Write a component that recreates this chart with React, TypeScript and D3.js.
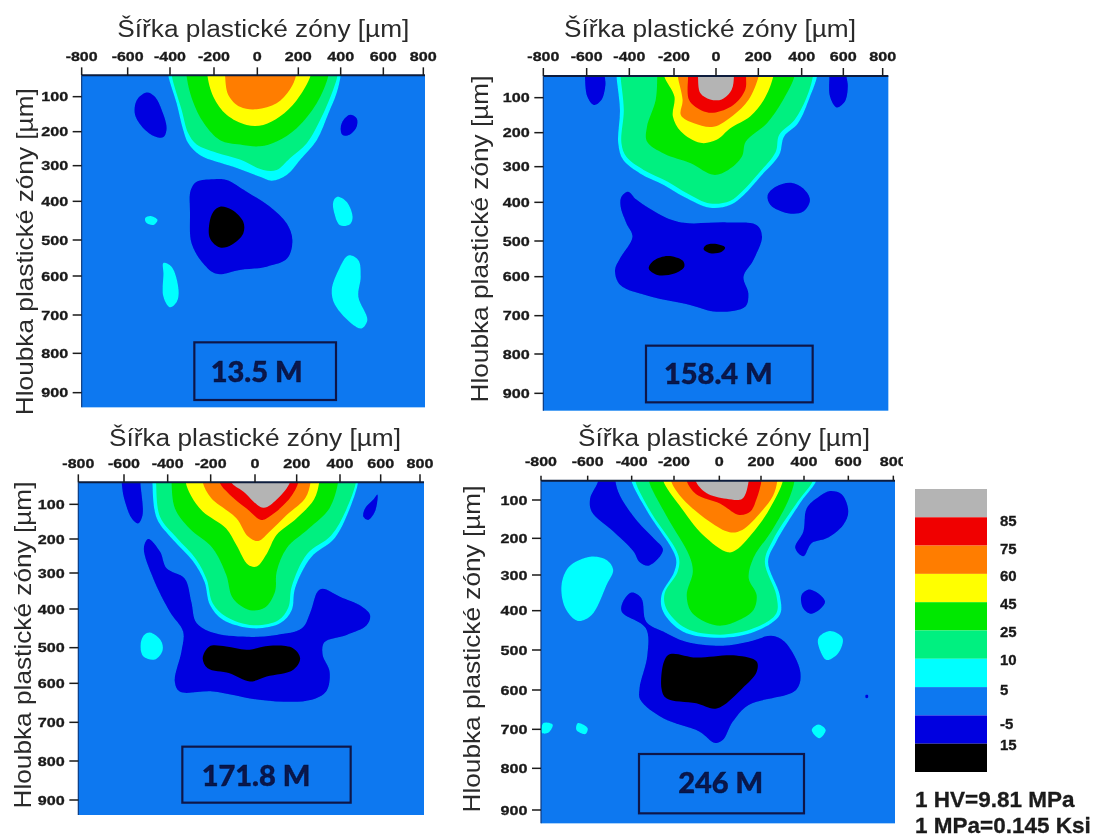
import React from "react";
import * as d3 from "d3";

type Pt = [number, number];
type Region = { band: string; pts: Pt[] };

const xTicks = [-800, -600, -400, -200, 0, 200, 400, 600, 800];
const yTicks = [100, 200, 300, 400, 500, 600, 700, 800, 900];
const yDomain = [40, ...yTicks, 940];
const xTitle = "Šířka plastické zóny [µm]";
const yTitle = "Hloubka plastické zóny [µm]";

const bandNames = ["gray", "85", "75", "60", "45", "25", "10", "5", "-5", "15"];
const bandLabels = ["85", "75", "60", "45", "25", "10", "5", "-5", "15"];
const bandColors = ["#b4b4b4", "#f00000", "#ff7d00", "#ffff00", "#00e800", "#00f080", "#00ffff", "#0a78f0", "#0000e0", "#000000"];
const notes = ["1 HV=9.81 MPa", "1 MPa=0.145 Ksi"];

const panelA: Region[] = [
  { band: "10", pts: [[-408, 10], [-408, 40], [-370, 119], [-340, 195], [-317, 234], [-263, 269], [-111, 303], [13, 331], [70, 342], [143, 326], [208, 283], [287, 225], [342, 148], [381, 90], [400, 40], [400, 10]] },
  { band: "25", pts: [[-392, 10], [-392, 40], [-347, 138], [-317, 205], [-279, 238], [-188, 262], [-80, 282], [29, 312], [94, 312], [159, 278], [240, 234], [311, 157], [365, 80], [385, 40], [385, 10]] },
  { band: "45", pts: [[-325, 10], [-325, 40], [-298, 110], [-245, 177], [-172, 225], [-80, 238], [13, 243], [94, 229], [192, 190], [287, 119], [342, 40], [342, 10]] },
  { band: "60", pts: [[-230, 10], [-230, 40], [-203, 100], [-142, 152], [-49, 181], [29, 181], [110, 157], [192, 110], [258, 40], [258, 10]] },
  { band: "75", pts: [[-149, 10], [-149, 40], [-134, 95], [-80, 129], [-3, 136], [94, 119], [159, 80], [189, 40], [189, 10]] },
  { band: "-5", pts: [[-510, 88], [-471, 100], [-439, 138], [-416, 190], [-431, 216], [-471, 214], [-526, 190], [-565, 152], [-557, 110]] },
  { band: "-5", pts: [[444, 152], [475, 162], [475, 186], [444, 208], [409, 210], [400, 190], [413, 167]] },
  { band: "-5", pts: [[-279, 345], [-203, 338], [-142, 340], [-49, 373], [62, 414], [143, 457], [171, 500], [146, 551], [46, 574], [-80, 583], [-188, 594], [-249, 565], [-302, 509], [-309, 431], [-306, 369]] },
  { band: "15", pts: [[-172, 414], [-118, 422], [-65, 453], [-65, 483], [-118, 513], [-172, 521], [-218, 496], [-221, 457], [-203, 427]] },
  { band: "10", pts: [[-491, 438], [-459, 448], [-478, 461], [-513, 455], [-517, 443]] },
  { band: "10", pts: [[384, 387], [428, 401], [456, 440], [444, 459], [397, 462], [370, 431], [365, 401]] },
  { band: "10", pts: [[-431, 564], [-392, 575], [-361, 636], [-369, 666], [-400, 680], [-431, 653], [-431, 593]] },
  { band: "10", pts: [[436, 543], [483, 556], [494, 602], [483, 653], [525, 713], [498, 735], [459, 726], [373, 674], [358, 636], [389, 585]] },
];

const panelB: Region[] = [
  { band: "10", pts: [[-460, 10], [-460, 40], [-444, 135], [-452, 231], [-429, 280], [-352, 319], [-244, 352], [-151, 385], [-28, 414], [66, 407], [130, 380], [209, 328], [296, 266], [319, 211], [383, 173], [438, 100], [474, 40], [474, 10]] },
  { band: "25", pts: [[-441, 10], [-441, 40], [-426, 135], [-437, 231], [-414, 271], [-336, 309], [-228, 342], [-136, 375], [-28, 403], [66, 396], [122, 370], [201, 319], [280, 257], [296, 207], [367, 164], [422, 102], [454, 40], [454, 10]] },
  { band: "45", pts: [[-275, 10], [-275, 40], [-282, 107], [-321, 183], [-321, 226], [-244, 262], [-120, 290], [-12, 323], [58, 309], [122, 271], [141, 226], [240, 173], [310, 111], [367, 40], [367, 10]] },
  { band: "60", pts: [[-244, 10], [-244, 40], [-198, 97], [-205, 154], [-167, 197], [-74, 230], [3, 221], [66, 188], [161, 154], [225, 107], [269, 40], [269, 10]] },
  { band: "75", pts: [[-182, 10], [-182, 40], [-159, 107], [-167, 150], [-105, 173], [-12, 183], [82, 150], [153, 107], [201, 40], [201, 10]] },
  { band: "85", pts: [[-133, 10], [-133, 40], [-128, 107], [-74, 135], [-12, 143], [82, 121], [138, 78], [142, 40], [142, 10]] },
  { band: "gray", pts: [[-86, 10], [-86, 40], [-74, 88], [-28, 105], [27, 105], [74, 78], [85, 40], [85, 10]] },
  { band: "-5", pts: [[-608, 10], [-608, 40], [-597, 97], [-566, 121], [-531, 107], [-512, 64], [-515, 40], [-515, 10]] },
  { band: "-5", pts: [[533, 10], [533, 40], [536, 97], [568, 128], [608, 111], [623, 68], [616, 40], [616, 10]] },
  { band: "-5", pts: [[351, 345], [408, 361], [440, 393], [408, 424], [335, 428], [256, 407], [243, 380], [280, 356]] },
  { band: "-5", pts: [[-406, 370], [-367, 393], [-244, 437], [-151, 453], [51, 452], [193, 459], [217, 489], [177, 553], [130, 600], [153, 643], [138, 677], [3, 690], [-120, 673], [-306, 651], [-444, 621], [-467, 581], [-444, 549], [-386, 489], [-414, 454], [-441, 411], [-437, 384]] },
  { band: "15", pts: [[-228, 542], [-159, 555], [-151, 572], [-198, 591], [-275, 595], [-313, 577], [-290, 555]] },
  { band: "15", pts: [[-12, 508], [43, 518], [27, 530], [-28, 534], [-59, 523], [-51, 513]] },
];

const panelC: Region[] = [
  { band: "10", pts: [[-470, 10], [-470, 40], [-450, 140], [-374, 203], [-283, 265], [-229, 324], [-203, 389], [-145, 428], [-8, 450], [120, 437], [176, 403], [192, 343], [265, 255], [375, 198], [442, 121], [489, 40], [489, 10]] },
  { band: "25", pts: [[-453, 10], [-453, 40], [-435, 136], [-359, 196], [-267, 260], [-218, 319], [-191, 384], [-130, 420], [-8, 442], [112, 429], [160, 396], [176, 338], [248, 244], [359, 190], [430, 116], [478, 40], [478, 10]] },
  { band: "45", pts: [[-382, 10], [-382, 40], [-366, 112], [-298, 170], [-191, 227], [-130, 305], [-99, 371], [-23, 403], [48, 396], [96, 352], [104, 296], [152, 227], [256, 170], [351, 112], [391, 40], [391, 10]] },
  { band: "60", pts: [[-316, 10], [-316, 40], [-290, 78], [-237, 121], [-130, 170], [-84, 218], [-31, 276], [8, 281], [56, 244], [104, 188], [200, 140], [280, 87], [304, 40], [304, 10]] },
  { band: "75", pts: [[-237, 10], [-237, 40], [-198, 83], [-84, 140], [-31, 193], [16, 206], [72, 178], [152, 131], [240, 83], [264, 40], [264, 10]] },
  { band: "85", pts: [[-160, 10], [-160, 40], [-115, 73], [-38, 112], [32, 145], [80, 131], [168, 83], [208, 40], [208, 10]] },
  { band: "gray", pts: [[-107, 10], [-107, 40], [-53, 65], [40, 110], [104, 87], [168, 40], [168, 10]] },
  { band: "-5", pts: [[-610, 10], [-610, 40], [-600, 83], [-565, 140], [-535, 155], [-515, 131], [-525, 40], [-525, 10]] },
  { band: "-5", pts: [[584, 73], [572, 121], [539, 145], [515, 136], [523, 112], [564, 87]] },
  { band: "-5", pts: [[-489, 200], [-435, 237], [-405, 286], [-321, 315], [-290, 380], [-267, 435], [-191, 461], [-38, 472], [104, 467], [224, 450], [264, 407], [296, 352], [320, 344], [400, 366], [507, 393], [548, 416], [531, 442], [433, 467], [328, 486], [320, 520], [352, 567], [336, 621], [264, 643], [136, 647], [-8, 640], [-191, 621], [-344, 621], [-367, 595], [-336, 511], [-328, 459], [-390, 407], [-466, 315], [-509, 227]] },
  { band: "15", pts: [[-206, 497], [-130, 497], [-38, 506], [72, 495], [184, 502], [216, 530], [184, 562], [56, 581], [-23, 595], [-115, 572], [-214, 558], [-237, 530]] },
  { band: "10", pts: [[-481, 461], [-432, 481], [-423, 507], [-458, 533], [-511, 525], [-524, 493], [-509, 468]] },
];

const panelD: Region[] = [
  { band: "10", pts: [[-401, 10], [-401, 40], [-326, 130], [-192, 253], [-199, 291], [-259, 356], [-251, 403], [-162, 453], [3, 469], [172, 453], [287, 411], [287, 356], [233, 264], [271, 209], [387, 104], [455, 40], [455, 10]] },
  { band: "25", pts: [[-383, 10], [-383, 40], [-311, 130], [-180, 248], [-184, 291], [-244, 351], [-237, 393], [-147, 445], [3, 461], [164, 445], [271, 407], [271, 356], [218, 264], [256, 204], [371, 104], [440, 40], [440, 10]] },
  { band: "45", pts: [[-319, 10], [-319, 40], [-236, 141], [-132, 248], [-117, 291], [-144, 356], [-124, 403], [-57, 430], [11, 438], [95, 424], [164, 398], [179, 356], [141, 309], [164, 253], [248, 182], [325, 104], [356, 40], [356, 10]] },
  { band: "60", pts: [[-251, 10], [-251, 40], [-177, 113], [-72, 191], [41, 238], [80, 232], [179, 173], [241, 122], [302, 40], [302, 10]] },
  { band: "75", pts: [[-214, 10], [-214, 40], [-162, 96], [-42, 157], [49, 184], [110, 178], [202, 130], [256, 87], [276, 40], [276, 10]] },
  { band: "85", pts: [[-144, 10], [-144, 40], [-102, 82], [3, 109], [95, 139], [149, 130], [179, 96], [202, 40], [202, 10]] },
  { band: "gray", pts: [[-105, 10], [-105, 40], [-57, 78], [34, 96], [110, 96], [141, 40], [141, 10]] },
  { band: "-5", pts: [[-552, 10], [-552, 40], [-589, 96], [-582, 130], [-483, 182], [-392, 235], [-362, 265], [-317, 274], [-252, 232], [-296, 200], [-371, 157], [-453, 87], [-474, 40], [-474, 10]] },
  { band: "-5", pts: [[517, 72], [570, 82], [600, 130], [577, 165], [502, 200], [435, 213], [397, 249], [359, 226], [397, 182], [412, 122], [465, 91]] },
  { band: "-5", pts: [[427, 341], [495, 375], [435, 408], [397, 394], [389, 356]] },
  { band: "-5", pts: [[-400, 349], [-354, 365], [-331, 428], [-251, 453], [-147, 479], [18, 489], [141, 479], [248, 464], [310, 479], [383, 555], [363, 600], [141, 638], [64, 681], [18, 727], [-19, 735], [-87, 706], [-251, 672], [-359, 625], [-363, 596], [-326, 513], [-333, 445], [-445, 403], [-438, 373]] },
  { band: "-5", pts: [[677, 613], [687, 613], [687, 620], [677, 620]] },
  { band: "15", pts: [[-229, 513], [-102, 519], [80, 514], [179, 529], [179, 555], [110, 596], [-12, 647], [-102, 634], [-236, 621], [-259, 596]] },
  { band: "10", pts: [[-589, 250], [-514, 259], [-484, 286], [-514, 328], [-582, 411], [-642, 426], [-695, 394], [-712, 328], [-679, 277]] },
  { band: "10", pts: [[517, 452], [574, 470], [554, 508], [502, 525], [472, 500], [465, 470]] },
  { band: "10", pts: [[465, 688], [498, 702], [469, 723], [435, 702]] },
  { band: "10", pts: [[-642, 684], [-600, 697], [-610, 712], [-648, 702]] },
  { band: "10", pts: [[-790, 684], [-750, 688], [-769, 709], [-797, 709]] },
];

const panels = [
  { id: "a", regions: panelA, label: "13.5 M", ox: 0, oy: 0, tickLen: 8,
    xz: [245, 383, 510, 642, 772, 895, 1022, 1150, 1270], yz: [226, 290, 395, 497, 604, 720, 828, 945, 1060, 1178, 1222], rightZ: 1275,
    box: [583, 1027, 1008, 1200], textAt: [770, 1115], titleAt: [790, 88], yTitleAt: [75, 755], labelZ: 168 },
  { id: "b", regions: panelB, label: "158.4 M", ox: 450, oy: 0, tickLen: 8,
    xz: [280, 410, 538, 672, 798, 925, 1055, 1180, 1298], yz: [228, 293, 398, 500, 607, 723, 830, 947, 1062, 1180, 1232], rightZ: 1315,
    box: [588, 1037, 1088, 1207], textAt: [805, 1122], titleAt: [780, 88], yTitleAt: [90, 717], labelZ: 168 },
  { id: "c", regions: panelC, label: "171.8 M", ox: 0, oy: 415, tickLen: 8,
    xz: [235, 372, 503, 632, 765, 890, 1020, 1142, 1260], yz: [202, 268, 372, 474, 582, 698, 805, 922, 1038, 1155, 1200], rightZ: 1272,
    box: [547, 995, 1052, 1163], textAt: [768, 1083], titleAt: [765, 70], yTitleAt: [70, 690], labelZ: 145 },
  { id: "d", regions: panelD, label: "246 M", ox: 450, oy: 415, tickLen: 5,
    xz: [273, 413, 545, 672, 808, 933, 1062, 1195, 1330], yz: [197, 255, 370, 480, 587, 705, 825, 943, 1060, 1185, 1225], rightZ: 1335,
    box: [567, 1017, 1062, 1195], textAt: [812, 1105], titleAt: [822, 70], yTitleAt: [65, 702], labelZ: 140 },
];

const colorOf = d3.scaleOrdinal<string, string>().domain(bandNames).range(bandColors);
const legendY = d3.scaleBand<string>().domain(bandNames).range([489, 772]);
const legendLabelY = [520, 548, 575, 603, 631, 659, 689, 723, 744];

const ink = "#1a1a1a";
const navy = "#07184a";

const tickWidth = (t: number) => {
  const s = String(t);
  return s.replace("-", "").length * 9 + (s.startsWith("-") ? 5 : 0);
};

function Panel({ p }: { p: (typeof panels)[number] }) {
  const px = (v: number) => v / 3 + p.ox;
  const py = (v: number) => v / 3 + p.oy;
  const x = d3.scaleLinear().domain(xTicks).range(p.xz.map(px));
  const y = d3.scaleLinear().domain(yDomain).range(p.yz.map(py));
  const line = d3
    .line<Pt>()
    .x((d) => x(d[0]))
    .y((d) => y(d[1]))
    .curve(d3.curveCatmullRomClosed.alpha(0.5));
  const left = px(p.xz[0]);
  const right = px(p.rightZ);
  const top = py(p.yz[0]);
  const bottom = py(p.yz[p.yz.length - 1]);
  const clipId = `plot-${p.id}`;
  const [bx0, by0, bx1, by1] = p.box;
  return (
    <g>
      <g filter="url(#softShape)">
        <clipPath id={clipId}>
          <rect x={left} y={top} width={right - left} height={bottom - top} />
        </clipPath>
        <rect x={left} y={top} width={right - left} height={bottom - top} fill={colorOf("5")} />
        <g clipPath={`url(#${clipId})`}>
          {p.regions.map((r, i) => (
            <path key={i} d={line(r.pts) ?? ""} fill={colorOf(r.band)} />
          ))}
        </g>
      </g>
      <line x1={left} x2={right} y1={top} y2={top} stroke="#0a1c3c" strokeWidth={2} />
      <line x1={left} x2={left} y1={top} y2={bottom} stroke="#0a3a80" strokeWidth={1.2} />
      {xTicks.map((t) => (
        <g key={t}>
          <line x1={x(t)} x2={x(t)} y1={top} y2={top - p.tickLen} stroke={ink} strokeWidth={1.5} />
          <text x={x(t)} y={py(p.labelZ) + 4.5} textAnchor="middle" fontFamily="Liberation Sans" fontWeight={700} fontSize={12.5} fill={ink} stroke={ink} strokeWidth={0.3} textLength={tickWidth(t)} lengthAdjust="spacingAndGlyphs">
            {t}
          </text>
        </g>
      ))}
      {yTicks.map((t) => (
        <g key={t}>
          <line x1={left - 9} x2={left} y1={y(t)} y2={y(t)} stroke={ink} strokeWidth={1.5} />
          <text x={left - 13.5} y={y(t) + 4.5} textAnchor="end" fontFamily="Liberation Sans" fontWeight={700} fontSize={12.5} fill={ink} stroke={ink} strokeWidth={0.3} textLength={tickWidth(t)} lengthAdjust="spacingAndGlyphs">
            {t}
          </text>
        </g>
      ))}
      <text x={px(p.titleAt[0])} y={py(p.titleAt[1]) + 8} textAnchor="middle" fontFamily="Liberation Sans" fontSize={23.5} fill="#2a2a2a" textLength={292} lengthAdjust="spacingAndGlyphs">
        {xTitle}
      </text>
      <text transform={`translate(${px(p.yTitleAt[0]) + 8},${py(p.yTitleAt[1])}) rotate(-90)`} textAnchor="middle" fontFamily="Liberation Sans" fontSize={24} fill="#2a2a2a" textLength={327} lengthAdjust="spacingAndGlyphs">
        {yTitle}
      </text>
      <rect x={px(bx0)} y={py(by0)} width={(bx1 - bx0) / 3} height={(by1 - by0) / 3} fill="none" stroke={navy} strokeWidth={2.2} />
      <text x={px(p.textAt[0])} y={py(p.textAt[1]) + 10} textAnchor="middle" fontFamily="Lato" fontWeight={900} fontSize={29} fill={navy} stroke={navy} strokeWidth={0.5}>
        {p.label}
      </text>
    </g>
  );
}

export default function App() {
  return (
    <svg width={1097} height={837} viewBox="0 0 1097 837" style={{ position: "absolute", left: 0, top: 0, display: "block", background: "#fff" }}>
      <defs>
        <filter id="soft" x="0" y="0" width="100%" height="100%" filterUnits="objectBoundingBox">
          <feGaussianBlur stdDeviation={0.45} />
        </filter>
        <filter id="softShape" x="-2%" y="-2%" width="104%" height="104%">
          <feGaussianBlur stdDeviation={0.7} />
        </filter>
      </defs>
      <g filter="url(#soft)">
        <rect width={1097} height={837} fill="#fff" />
        {panels.map((p) => (
          <Panel key={p.id} p={p} />
        ))}
        <rect x={903} y={452} width={10} height={20} fill="#fff" />
        {bandNames.map((b) => (
          <rect key={b} x={915} y={legendY(b)} width={72} height={legendY.bandwidth()} fill={colorOf(b)} />
        ))}
        {bandLabels.map((l, i) => (
          <text key={i} x={1000} y={legendLabelY[i] + 5.5} fontFamily="Liberation Sans" fontWeight={700} fontSize={15} fill={ink} stroke={ink} strokeWidth={0.3}>
            {l}
          </text>
        ))}
        {notes.map((n, i) => (
          <text key={n} x={915} y={807 + i * 25.5} fontFamily="Liberation Sans" fontWeight={700} fontSize={22.5} fill={ink} stroke={ink} strokeWidth={0.3}>
            {n}
          </text>
        ))}
      </g>
    </svg>
  );
}
